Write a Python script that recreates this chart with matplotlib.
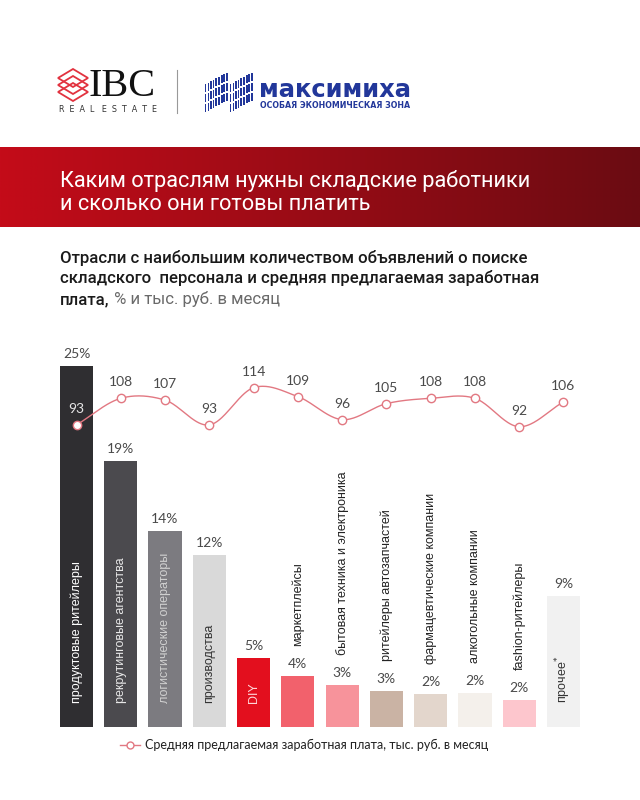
import numpy as np
import matplotlib
matplotlib.use('Agg')
import matplotlib.pyplot as plt
from matplotlib.patches import Polygon, Rectangle

# ---------------- data ----------------
categories = ['продуктовые ритейлеры', 'рекрутинговые агентства', 'логистические операторы',
              'производства', 'DIY', 'маркетплейсы', 'бытовая техника и электроника',
              'ритейлеры автозапчастей', 'фармацевтические компании', 'алкогольные компании',
              'fashion-ритейлеры', 'прочее$^{*}$']
share = [25.0, 18.4, 13.6, 11.9, 4.8, 3.5, 2.9, 2.5, 2.3, 2.35, 1.9, 9.1]
share_labels = ['25%', '19%', '14%', '12%', '5%', '4%', '3%', '3%', '2%', '2%', '2%', '9%']
salary = [93, 108, 107, 93, 114, 109, 96, 105, 108, 108, 92, 106]

bar_colors = ['#2f2e31', '#4b4a4e', '#7c7b80', '#d9d9d9', '#e30f1e', '#f2616c',
              '#f7939b', '#cab3a4', '#e3d6cc', '#f4f0eb', '#fdc6cd', '#f1f1f1']
inside = [True, True, True, True, True, False, False, False, False, False, False, True]
inside_text_colors = ['#ffffff', '#e8e8e8', '#d0d0d0', '#333333', '#ffd6d9',
                      None, None, None, None, None, None, '#333333']

sub_bold = ['Отрасли с наибольшим количеством объявлений о поиске',
            'складского  персонала и средняя предлагаемая заработная',
            'плата,']
sub_light = ' % и тыс. руб. в месяц'
legend_text = 'Средняя предлагаемая заработная плата, тыс. руб. в месяц'

LINE_C = '#e27882'
NUM_FONT = ['Lato', 'DejaVu Sans']
LBL_FONT = ['Liberation Sans', 'DejaVu Sans']
NUM_C = '#4a4a4a'

W, H = 640, 800
fig = plt.figure(figsize=(6.4, 8), dpi=100)
fig.patch.set_facecolor('white')

bg = fig.add_axes([0, 0, 1, 1])
bg.axis('off')

# ---- logos ----
for k, dy in enumerate([0, 7, 14]):
    cx, cy = 73, 78 + dy
    pts = [(cx - 15, cy), (cx, cy - 9), (cx + 15, cy), (cx, cy + 9)]
    bg.add_patch(Polygon(pts, closed=True, fill=False, edgecolor='#e2323f', lw=1.3))
bg.text(89, 96, 'IBC', fontsize=29, family=['Liberation Serif'], color='#111111', va='baseline', ha='left')
bg.text(59, 110, 'R  E  A  L   E  S  T  A  T  E', fontsize=5.8, family=['DejaVu Sans'], color='#333333',
        va='center', ha='left')
bg.plot([177, 177], [70, 113], color='#999999', lw=0.8)

blue = '#22379a'
for col_x0 in [205, 230]:
    for b in range(3):
        for s in range(9):
            x = col_x0 + s * 2.6
            slope = 0.55
            y_bot = 84 + b * 10 - (x - col_x0) * slope + 8
            y_top = y_bot - 8
            bg.add_patch(Rectangle((x, y_top), 1.2 + s * 0.13, 8, color=blue, lw=0))
bg.text(259, 97, 'максимиха', fontsize=17.5, family=['DejaVu Sans'], weight='bold', color=blue,
        va='baseline', ha='left')
bg.text(260, 106, 'ОСОБАЯ ЭКОНОМИЧЕСКАЯ ЗОНА', fontsize=5.7, family=['DejaVu Sans'], weight='bold',
        color=blue, va='center', ha='left')

# ---- gradient banner ----
grad = np.linspace(0, 1, 256)
c0 = np.array([0xc4, 0x0b, 0x19]) / 255
c1 = np.array([0x6b, 0x0b, 0x12]) / 255
img = (c0[None, :] * (1 - grad[:, None]) + c1[None, :] * grad[:, None])[None, :, :]
bg.imshow(img, extent=[0, W, 227, 147], aspect='auto', zorder=0)
bg.set_xlim(0, W)
bg.set_ylim(H, 0)
bg.text(60, 187, 'Каким отраслям нужны складские работники', fontsize=15.7, family=['Roboto'],
        color='white', va='baseline', ha='left')
bg.text(60, 210, 'и сколько они готовы платить', fontsize=15.7, family=['Roboto'],
        color='white', va='baseline', ha='left')

# ---- subtitle ----
for i, line in enumerate(sub_bold):
    t = bg.text(60, 263 + i * 20.5, line, fontsize=12.1, family=['Roboto'], weight='medium',
                color='#1a1a1a', va='baseline', ha='left')
fig.canvas.draw()
bb = t.get_window_extent()
x_end = bb.x1 * W / fig.bbox.width
bg.text(x_end, 263 + 2 * 20.5, sub_light, fontsize=12.1, family=['Roboto'], weight='normal',
        color='#6a6a6a', va='baseline', ha='left')

# ---------------- chart ----------------
n = len(categories)
xs = np.arange(n)
px_per_cat = 44.27
left_px = 76.5 - px_per_cat / 2
right_px = left_px + px_per_cat * n
base_px, top_px = 727, 340
px_per_pct = 14.44
ax = fig.add_axes([left_px / W, (H - base_px) / H, (right_px - left_px) / W, (base_px - top_px) / H])
ax.set_xlim(-0.5, n - 0.5)
ax.set_ylim(0, (base_px - top_px) / px_per_pct)
ax.axis('off')
ax.patch.set_alpha(0)

ax.bar(xs, share, width=0.75, color=bar_colors, zorder=1)

pct_off = 12 / px_per_pct
for i in range(n):
    ax.text(xs[i], share[i] + pct_off, share_labels[i], ha='center', va='center',
            fontsize=10, family=NUM_FONT, color=NUM_C)
    if inside[i]:
        ax.text(xs[i], 24 / px_per_pct, categories[i], rotation=90, ha='center', va='bottom',
                fontsize=9, family=LBL_FONT, color=inside_text_colors[i], zorder=3)
    else:
        ax.text(xs[i], share[i] + pct_off + 18 / px_per_pct, categories[i], rotation=90,
                ha='center', va='bottom', fontsize=9, family=LBL_FONT, color='#222222', zorder=3)

# salary line
ax2 = fig.add_axes(ax.get_position())
ax2.set_xlim(-0.5, n - 0.5)
px_per_rub = 1.773
ymin = 92 - (base_px - 426.7) / px_per_rub
ymax = 92 + (426.7 - top_px) / px_per_rub
ax2.set_ylim(ymin, ymax)
ax2.axis('off')
ax2.patch.set_alpha(0)


def catmull_rom(x, y, steps=40):
    x = np.asarray(x, float)
    y = np.asarray(y, float)
    P = np.column_stack([x, y])
    P = np.vstack([2 * P[0] - P[1], P, 2 * P[-1] - P[-2]])
    out = []
    t = np.linspace(0, 1, steps)[:, None]
    for i in range(1, len(P) - 2):
        p0, p1, p2, p3 = P[i - 1], P[i], P[i + 1], P[i + 2]
        seg = 0.5 * ((2 * p1) + (-p0 + p2) * t + (2 * p0 - 5 * p1 + 4 * p2 - p3) * t ** 2
                     + (-p0 + 3 * p1 - 3 * p2 + p3) * t ** 3)
        out.append(seg)
    out = np.vstack(out)
    return out[:, 0], out[:, 1]


sx, sy = catmull_rom(xs, salary)
ax2.plot(sx, sy, color=LINE_C, lw=1.0, zorder=4)
ax2.plot(xs, salary, 'o', ms=6, mfc='white', mec=LINE_C, mew=1.0, zorder=5)
for i in range(n):
    ax2.text(xs[i], salary[i] + 16 / px_per_rub, str(salary[i]), ha='center', va='center',
             fontsize=10, family=NUM_FONT,
             color='#e6e6e6' if i == 0 else NUM_C, zorder=6)

# ---- legend ----
bg.plot([120, 140], [745, 745], color=LINE_C, lw=1.0)
bg.plot([130], [745], 'o', ms=5, mfc='white', mec=LINE_C, mew=1.0)
bg.text(145, 745, legend_text, fontsize=9, family=NUM_FONT, color='#222222', va='center', ha='left')

fig.savefig('out.png', dpi=100, facecolor='white')
